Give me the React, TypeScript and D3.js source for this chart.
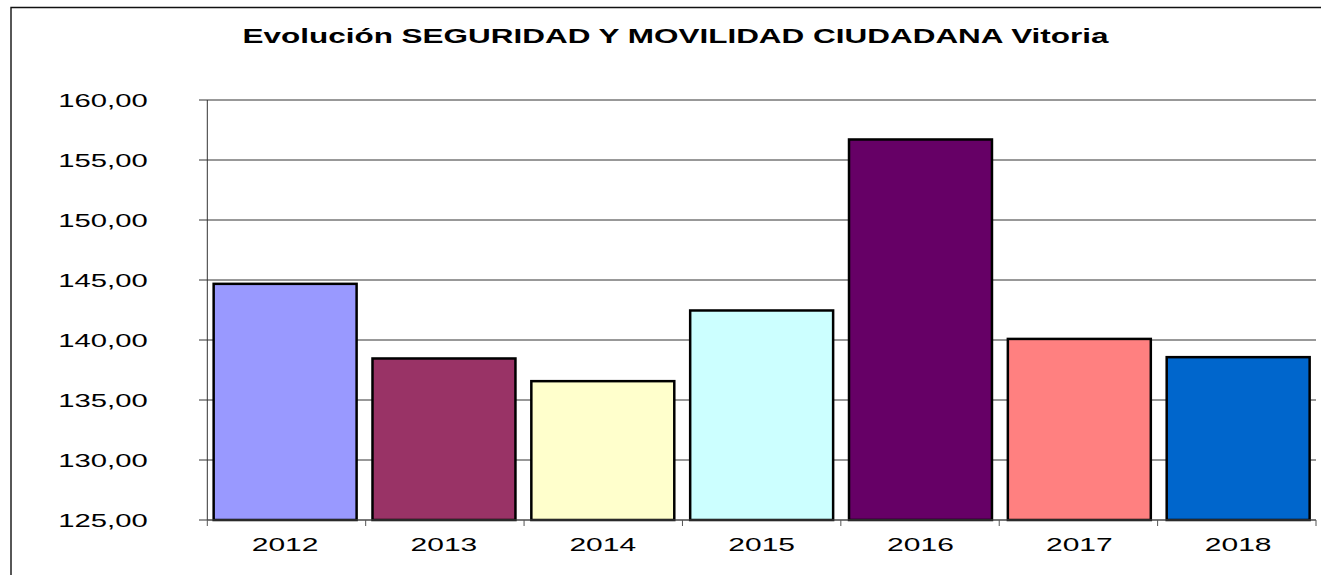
import React from 'react';
import * as d3 from 'd3';

const title = 'Evolución SEGURIDAD Y MOVILIDAD CIUDADANA Vitoria';
const years = ['2012', '2013', '2014', '2015', '2016', '2017', '2018'];
const values = [144.68, 138.46, 136.57, 142.46, 156.71, 140.09, 138.57];
const barColors = ['#9999FF', '#993366', '#FFFFCC', '#CCFFFF', '#660066', '#FF8080', '#0066CC'];
const yTicks = [125, 130, 135, 140, 145, 150, 155, 160];

const W = 1321;
const H = 575;
const FONT = '"Liberation Sans", Arial, sans-serif';

export default function App() {
  const left = 207.3;
  const right = 1316;
  const top = 100;
  const bottom = 520;

  const x = d3.scaleBand<string>()
    .domain(years)
    .range([left, right])
    .paddingInner(0.1)
    .paddingOuter(0.04);

  const y = d3.scaleLinear().domain([125, 160]).range([bottom, top]);

  const fmt = (v: number) => v.toFixed(2).replace('.', ',');

  // category boundaries for the x ticks
  const xEdges = d3.range(years.length + 1).map((i) => left + i * ((right - left) / years.length));

  return (
    <svg
      width={W}
      height={H}
      style={{ position: 'fixed', left: 0, top: 0, display: 'block', background: '#fff' }}
    >
      <rect x={0} y={0} width={W} height={H} fill="#fff" />
      {/* outer chart border, only left and top edges are in view */}
      <path d={`M11,${H}V7.5H${W}`} fill="none" stroke="#111" strokeWidth={1.4} />

      <text
        x={675.5}
        y={42.7}
        textAnchor="middle"
        fontFamily={FONT}
        fontWeight="bold"
        fontSize={19.5}
        textLength={866}
        lengthAdjust="spacingAndGlyphs"
        fill="#000"
      >
        {title}
      </text>

      {/* gridlines + y ticks */}
      {yTicks.map((t) => (
        <g key={t}>
          <line x1={199} x2={right} y1={y(t)} y2={y(t)} stroke="#333" strokeWidth={1} />
          <text
            x={147.7}
            y={y(t) + 6.5}
            textAnchor="end"
            fontFamily={FONT}
            fontSize={17.7}
            textLength={89.4}
            lengthAdjust="spacingAndGlyphs"
            fill="#000"
          >
            {fmt(t)}
          </text>
        </g>
      ))}

      {/* y axis */}
      <line x1={left} x2={left} y1={top} y2={bottom} stroke="#333" strokeWidth={1} />

      {/* bars */}
      {years.map((yr, i) => (
        <rect
          key={yr}
          x={x(yr)}
          y={y(values[i])}
          width={x.bandwidth()}
          height={bottom - y(values[i])}
          fill={barColors[i]}
          stroke="#000"
          strokeWidth={2.5}
        />
      ))}

      {/* x axis */}
      <line x1={left} x2={right} y1={bottom} y2={bottom} stroke="#555" strokeWidth={1} />
      {xEdges.map((ex, i) => (
        <line key={i} x1={ex} x2={ex} y1={bottom} y2={bottom + 6} stroke="#555" strokeWidth={1} />
      ))}
      {years.map((yr) => (
        <text
          key={yr}
          x={(x(yr) ?? 0) + x.bandwidth() / 2}
          y={551}
          textAnchor="middle"
          fontFamily={FONT}
          fontSize={17.7}
          textLength={66.7}
          lengthAdjust="spacingAndGlyphs"
          fill="#000"
        >
          {yr}
        </text>
      ))}
    </svg>
  );
}
